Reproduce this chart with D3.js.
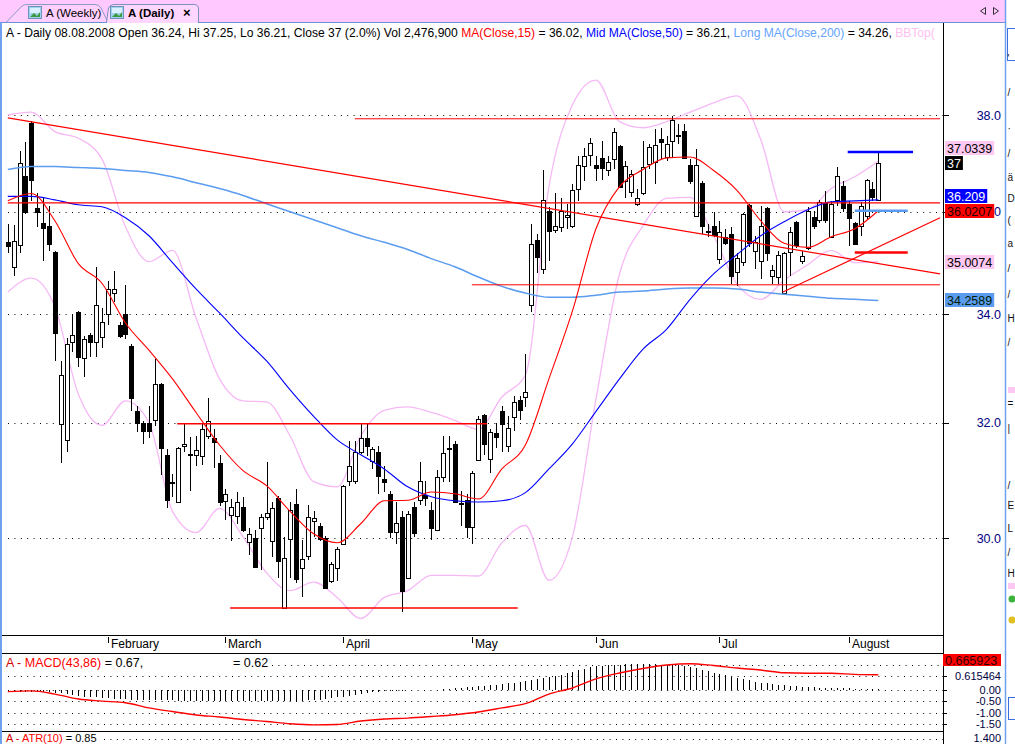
<!DOCTYPE html>
<html><head><meta charset="utf-8">
<script src="https://cdn.jsdelivr.net/npm/d3@7"></script>
<style>
html,body{margin:0;padding:0;background:#fff;overflow:hidden;}
svg{display:block;font-family:"Liberation Sans",Arial,sans-serif;}
</style></head><body>
<svg id="c" width="1015" height="744"></svg>
<script>
// ---------- DATA ----------
const openP  = [35.39,34.91,35.33,36.73,37.84,36.08,35.78,35.72,35.19,31.98,31.69,33.47,34.04,33.17,33.61,33.47,33.56,34.00,34.40,33.80,34.00,33.39,32.20,32.00,32.00,32.04,32.70,31.43,30.96,30.61,31.58,31.45,31.43,31.41,31.76,31.72,31.29,30.63,30.38,30.37,30.52,29.93,30.00,30.16,30.35,29.95,30.68,28.85,29.98,30.57,29.50,29.70,30.28,30.21,30.00,29.28,29.50,29.90,30.97,30.97,31.48,31.72,31.32,31.48,31.01,30.75,30.10,30.35,29.33,30.52,30.64,30.73,30.47,30.14,31.04,31.53,31.62,30.59,30.64,30.19,31.34,32.13,31.36,31.81,32.20,31.58,32.09,32.40,32.46,34.18,35.43,34.87,36.02,35.64,35.70,35.90,35.72,36.47,36.94,37.16,36.96,37.10,36.86,37.08,37.35,36.63,36.39,36.16,36.37,36.98,37.02,37.49,37.12,37.45,37.57,37.67,36.96,35.92,36.59,35.62,35.72,35.07,35.49,35.56,34.81,35.01,36.14,35.21,35.03,36.08,34.73,34.71,34.40,35.19,35.80,35.03,35.27,35.90,35.84,36.18,35.50,36.24,36.53,36.16,35.78,35.72,35.92,36.47,36.24];
const highP  = [35.76,35.74,37.24,37.43,37.88,36.37,36.27,36.12,35.22,33.12,33.54,34.00,34.06,33.58,33.65,34.91,34.12,34.63,34.83,33.85,34.55,33.43,32.29,32.02,32.29,33.16,32.72,31.53,31.10,31.57,31.97,31.74,31.76,31.97,32.44,31.88,31.43,30.83,30.66,30.78,30.70,30.17,30.14,30.40,31.30,30.61,30.71,30.02,30.61,30.83,29.97,30.56,30.45,30.25,30.03,29.60,29.85,30.90,31.67,31.67,31.97,31.97,31.57,31.58,31.23,30.80,30.61,30.45,30.45,30.61,31.30,30.97,30.61,31.17,31.76,31.76,31.67,30.80,30.75,31.15,32.11,32.15,31.88,32.00,32.29,32.11,32.48,32.48,33.25,35.76,35.56,36.84,36.10,36.37,36.27,36.16,36.57,37.14,37.31,37.51,37.14,37.45,37.14,37.73,37.37,37.04,36.84,36.47,37.45,37.39,37.71,37.73,37.55,37.98,37.80,37.80,37.08,37.29,36.63,35.76,36.00,35.82,35.66,35.70,35.17,35.98,36.16,35.52,36.12,36.10,34.95,35.21,35.19,35.70,35.82,35.21,36.10,36.02,36.24,36.41,36.22,36.92,36.63,36.22,35.80,36.20,36.67,36.61,37.25];
const lowP   = [35.17,34.73,35.17,35.96,36.22,35.70,35.03,35.21,33.12,31.29,31.48,33.28,33.01,32.83,33.19,33.19,33.36,33.80,34.22,33.55,33.52,32.20,31.83,31.62,31.72,31.93,31.08,30.50,30.70,30.59,31.48,30.80,31.23,31.25,31.70,31.20,30.54,30.31,29.95,30.24,30.10,29.72,29.50,29.47,30.31,29.68,29.33,28.83,29.33,29.25,29.02,29.63,30.02,29.95,29.17,29.25,29.28,29.88,30.89,30.92,31.44,31.41,31.18,30.75,30.78,30.00,29.90,28.78,29.32,30.02,30.56,30.54,29.97,30.12,30.96,30.96,30.59,30.21,30.00,29.90,31.34,31.43,31.11,31.55,31.48,31.48,31.84,32.04,32.28,34.04,34.79,34.77,35.03,35.58,35.60,35.66,35.68,36.22,36.63,36.94,36.63,36.65,36.73,36.88,36.49,36.27,36.29,36.12,36.33,36.88,36.57,37.08,37.04,37.12,37.39,37.08,36.57,35.90,35.56,35.50,35.50,34.97,35.33,34.57,34.53,34.93,35.30,34.87,34.67,35.03,34.57,34.57,34.38,34.73,35.27,34.97,35.23,35.66,35.78,35.78,35.48,36.12,36.00,35.31,35.33,35.52,35.86,36.22,36.21];
const closeP = [35.31,35.41,37.00,36.00,36.65,36.00,35.68,35.35,33.65,32.86,33.43,33.61,33.19,33.52,33.47,34.18,33.85,34.48,34.48,33.58,33.63,32.44,32.00,31.84,31.84,32.70,31.55,30.64,30.94,31.55,31.62,31.43,31.51,31.88,32.02,31.65,30.61,30.75,30.52,30.61,30.14,30.07,29.52,30.35,30.43,30.50,29.62,29.67,30.47,29.32,29.65,30.35,30.33,29.98,29.18,29.57,29.82,30.89,31.23,31.48,31.72,31.58,31.53,31.06,30.96,30.10,30.26,29.12,30.40,30.09,30.97,30.68,30.16,31.04,31.46,31.55,30.61,30.57,30.19,31.11,32.07,31.62,31.83,31.74,31.97,31.91,32.37,32.22,32.55,35.35,35.11,36.24,35.62,35.72,36.02,35.94,36.45,36.96,37.14,37.41,36.90,36.90,37.02,37.65,36.51,36.94,36.76,36.27,36.92,37.33,37.37,37.43,37.39,37.90,37.55,37.10,36.63,36.96,35.72,35.60,35.54,35.60,35.37,34.73,35.09,35.96,35.37,35.39,35.72,35.17,34.85,35.15,35.17,35.60,35.33,35.13,36.02,35.72,36.20,35.84,36.16,36.73,36.08,35.88,35.35,36.12,36.65,36.29,37.00];

// indicator lines, sampled every 4th session
const lineIdx = [0,4,8,12,16,20,24,28,32,36,40,44,48,52,56,60,64,68,72,76,80,84,88,92,96,100,104,108,112,116,120,124,128,132,136,140,144,148];
const ma15  = [36.22,36.37,35.82,34.97,34.59,33.83,33.32,32.79,32.18,31.60,31.15,30.89,30.45,30.07,29.92,30.24,30.63,30.64,30.78,30.75,30.66,31.18,31.60,32.79,34.06,35.66,36.51,36.86,37.10,37.12,36.84,36.43,35.82,35.37,35.29,35.50,35.66,36.02];
const ma50  = [36.31,36.31,36.24,36.14,36.10,35.88,35.52,34.99,34.48,34.02,33.55,33.12,32.59,32.11,31.69,31.43,31.18,30.87,30.70,30.63,30.61,30.63,30.77,31.18,31.62,32.20,32.79,33.34,33.71,34.28,34.77,35.15,35.52,35.80,36.04,36.20,36.22,36.24];
const ma200 = [36.86,36.92,36.92,36.90,36.88,36.84,36.80,36.71,36.59,36.47,36.33,36.16,36.00,35.84,35.68,35.52,35.39,35.25,35.07,34.91,34.71,34.53,34.40,34.32,34.32,34.36,34.42,34.44,34.48,34.50,34.50,34.48,34.42,34.38,34.34,34.30,34.28,34.26];
const bbTop = [38.00,38.06,37.65,37.51,37.08,35.70,35.01,35.23,33.93,32.79,32.39,32.37,31.76,30.96,30.87,31.76,32.22,32.28,32.18,32.04,31.88,32.46,32.86,36.51,38.22,38.75,37.86,37.73,37.86,38.06,38.26,38.41,37.49,36.00,36.04,36.47,36.71,37.03];
const bbBot = [34.42,34.69,34.14,32.51,31.95,32.39,32.00,30.45,30.09,30.50,30.02,29.42,29.13,29.27,29.02,28.68,29.02,29.13,29.38,29.38,29.37,29.92,30.21,29.30,30.02,32.42,34.77,35.72,36.27,36.29,35.52,34.57,34.28,34.65,34.95,35.23,34.99,35.01];
const macd  = [-0.07,-0.04,-0.18,-0.40,-0.49,-0.56,-0.79,-0.95,-1.10,-1.19,-1.30,-1.39,-1.49,-1.54,-1.52,-1.37,-1.28,-1.24,-1.17,-1.09,-0.97,-0.79,-0.60,-0.18,0.09,0.49,0.75,0.95,1.10,1.16,1.08,0.97,0.88,0.76,0.74,0.74,0.69,0.67];
const macdHist = [-0.05,-0.06,-0.07,-0.08,-0.08,-0.09,-0.10,-0.11,-0.12,-0.15,-0.19,-0.22,-0.26,-0.29,-0.31,-0.33,-0.35,-0.37,-0.38,-0.40,-0.41,-0.42,-0.43,-0.44,-0.44,-0.45,-0.45,-0.46,-0.46,-0.47,-0.47,-0.47,-0.48,-0.48,-0.48,-0.48,-0.49,-0.49,-0.49,-0.49,-0.50,-0.50,-0.50,-0.50,-0.50,-0.50,-0.49,-0.49,-0.49,-0.48,-0.47,-0.46,-0.44,-0.42,-0.39,-0.36,-0.33,-0.29,-0.25,-0.21,-0.17,-0.14,-0.11,-0.08,-0.06,-0.05,-0.04,-0.03,-0.02,-0.02,-0.01,0.00,0.01,0.02,0.04,0.06,0.08,0.10,0.12,0.14,0.16,0.18,0.20,0.23,0.26,0.29,0.32,0.35,0.38,0.42,0.47,0.52,0.57,0.62,0.67,0.73,0.80,0.87,0.94,1.00,1.05,1.08,1.10,1.11,1.12,1.13,1.13,1.13,1.13,1.13,1.13,1.12,1.12,1.11,1.09,1.06,1.01,0.95,0.89,0.83,0.77,0.71,0.65,0.59,0.53,0.47,0.42,0.37,0.33,0.29,0.26,0.23,0.20,0.18,0.16,0.14,0.13,0.12,0.11,0.10,0.09,0.08,0.08,0.07,0.06,0.06,0.05,0.05,0.05];

// drawn study lines (session index / price)
const studyI0 = [0, 0, 131.8, 59.0, 78.9, 28.8, 37.8, 144.0, 142.8, 144.0];
const studyP0 = [37.94, 36.18, 34.42, 37.92, 34.56, 31.98, 28.85, 35.19, 37.22, 36.02];
const studyI1 = [158.5, 158.5, 158.5, 158.5, 158.5, 81.5, 86.7, 153.0, 153.9, 153.0];
const studyP1 = [34.77, 36.18, 35.88, 37.92, 34.56, 31.98, 28.85, 35.19, 37.22, 36.02];

const monthLabels = ["February","March","April","May","Jun","Jul","August"];
const monthStart  = [17,37,57,79,100,121,143];
const priceTicks  = [38,36,34,32,30];
const priceTickLabels = ["38.0","36.0","34.0","32.0","30.0"];
const macdGrid = [1.1, 0.615464, 0, -0.5, -1, -1.5];
const macdTickVals = [0.615464, 0, -0.5, -1, -1.5];
const macdTickLabels = ["0.615464","0.00","-0.50","-1.00","-1.50"];
const tagValues = [37, 36.0207, 35.0074, 34.2589, 36.209, 37.0339];
const tagLabels = ["37","36.0207","35.0074","34.2589","36.209","37.0339"];

// ---------- CHART ----------
const svg = d3.select("#c");
const AX = 943;
const x  = d3.scaleLinear().domain([0,148]).range([7.8,878.3]);
const y  = d3.scaleLog().domain([30,38]).range([538,115]);
const ym = d3.scaleLinear().domain([-1.5,0]).range([724,690]);
const px = i => Math.round(x(i)) + 0.5;
const cr = v => Math.round(v) + 0.5;

svg.append("rect").attr("width",1015).attr("height",744).attr("fill","#fff");

// tab bar
const tb = svg.append("g");
tb.append("rect").attr("width",1005).attr("height",22).attr("fill","#ffc8ff");
tb.append("path").attr("d","M6,22.5 L22,6 Q24,4.5 28,4.5 L95,4.5 Q99,4.5 101,8 L108,22.5")
  .attr("fill","#ffcfff").attr("stroke","#8a9cc4");
tb.append("path").attr("d","M106.5,22.5 L108.5,8 Q110,4.5 114,4.5 L194,4.5 Q198.5,4.5 198.5,9 L198.5,22.5")
  .attr("fill","#ffd6ff").attr("stroke","#7d91bf");
tb.append("line").attr("x1",0).attr("x2",1005).attr("y1",22.5).attr("y2",22.5).attr("stroke","#6d8fd6");
tb.append("line").attr("x1",107).attr("x2",198).attr("y1",22.5).attr("y2",22.5).attr("stroke","#ffd6ff");
[28,110].forEach(ix=>{
  tb.append("rect").attr("x",ix+0.5).attr("y",6.5).attr("width",13).attr("height",12).attr("fill","#9fd2ee").attr("stroke","#6f92b8");
  tb.append("rect").attr("x",ix+2).attr("y",8).attr("width",10).attr("height",5).attr("fill","#d8f0ff");
  tb.append("path").attr("d",`M${ix+2},17 L${ix+6},13 L${ix+9},16 L${ix+12},12 L${ix+12},17 Z`).attr("fill","#3c9a3c");
});
tb.append("text").attr("x",46).attr("y",17).attr("font-size",11.5).attr("fill","#000").text("A (Weekly)");
tb.append("text").attr("x",128).attr("y",17).attr("font-size",11.5).attr("font-weight","bold").attr("fill","#000").text("A (Daily)");
tb.append("text").attr("x",183).attr("y",17).attr("font-size",13).attr("font-weight","bold").attr("fill","#000").text("×");
tb.append("path").attr("d","M985.5,7.5 L980.5,11 L985.5,14.5 Z").attr("fill","none").attr("stroke","#333");
tb.append("path").attr("d","M993.5,7.5 L998.5,11 L993.5,14.5 Z").attr("fill","none").attr("stroke","#333");

// window borders
svg.append("line").attr("x1",1).attr("x2",1).attr("y1",22).attr("y2",744).attr("stroke","#6fa0f0").attr("stroke-width",2);
svg.append("line").attr("x1",1005.5).attr("x2",1005.5).attr("y1",0).attr("y2",744).attr("stroke","#6fa0f0").attr("stroke-width",1.5);

// header (font size fitted to the reference line width)
const hdr = svg.append("text").attr("x",6).attr("y",37).attr("font-size",12.5);
[["A - Daily 08.08.2008 Open 36.24, Hi 37.25, Lo 36.21, Close 37 (2.0%) Vol 2,476,900 ","#000"],
 ["MA(Close,15)","#ff0000"],[" = 36.02, ","#000"],["Mid MA(Close,50)","#0000ff"],[" = 36.21, ","#000"],
 ["Long MA(Close,200)","#66a3ff"],[" = 34.26, ","#000"],["BBTop(","#ffc0f0"]]
 .forEach(s=>hdr.append("tspan").attr("fill",s[1]).text(s[0]));
const hl = hdr.node().getComputedTextLength();
if (hl > 929) hdr.attr("font-size", (12.5*929/hl).toFixed(2));

// price grid
const grid = svg.append("g");
priceTicks.forEach(v=>{
  grid.append("line").attr("x1",8).attr("x2",AX).attr("y1",cr(y(v))).attr("y2",cr(y(v)))
    .attr("stroke","#000").attr("stroke-dasharray","1,5.4");
});

const lineGen = vals => d3.line().x((d,k)=>x(lineIdx[k])).y(d=>y(d)).curve(d3.curveMonotoneX)(vals);
const plot = svg.append("g");
plot.append("path").attr("d",lineGen(bbTop)).attr("fill","none").attr("stroke","#f6b9f6").attr("stroke-width",1.3);
plot.append("path").attr("d",lineGen(bbBot)).attr("fill","none").attr("stroke","#f6b9f6").attr("stroke-width",1.3);

// candles
const cg = plot.append("g");
const cd = closeP.map((c,i)=>({i,o:openP[i],h:highP[i],l:lowP[i],c}));
cg.selectAll("line.w").data(cd).join("line").attr("class","w")
  .attr("x1",d=>px(d.i)).attr("x2",d=>px(d.i)).attr("y1",d=>y(d.h)).attr("y2",d=>y(d.l))
  .attr("stroke","#000").attr("shape-rendering","crispEdges");
cg.selectAll("rect.b").data(cd).join("rect").attr("class","b")
  .attr("x",d=>px(d.i)-2).attr("width",4)
  .attr("y",d=>cr(y(Math.max(d.o,d.c))))
  .attr("height",d=>Math.max(0.01, Math.round(y(Math.min(d.o,d.c))) - Math.round(y(Math.max(d.o,d.c)))))
  .attr("fill",d=>d.c>=d.o?"#fff":"#000").attr("stroke","#000").attr("shape-rendering","crispEdges");

plot.append("path").attr("d",lineGen(ma200)).attr("fill","none").attr("stroke","#5b9cf0").attr("stroke-width",1.5);
plot.append("path").attr("d",lineGen(ma50)).attr("fill","none").attr("stroke","#0000ff").attr("stroke-width",1.1);
plot.append("path").attr("d",lineGen(ma15)).attr("fill","none").attr("stroke","#ff0000").attr("stroke-width",1.1);

// study lines
const studyStyle = [["#ff0000",1.2],["#ff0000",1.2],["#ff0000",1.2],["#ff0000",1],["#ff0000",1],["#ff0000",1.5],["#ff0000",1.5],["#ff0000",2.5],["#0000ff",2.5],["#5b9cf0",2.5]];
const sg = svg.append("g");
studyI0.forEach((v,k)=>{
  sg.append("line").attr("x1",x(v)).attr("x2",x(studyI1[k]))
    .attr("y1",y(studyP0[k])).attr("y2",y(studyP1[k]))
    .attr("stroke",studyStyle[k][0]).attr("stroke-width",studyStyle[k][1]);
});

// right axis
const ax = svg.append("g");
ax.append("line").attr("x1",AX+0.5).attr("x2",AX+0.5).attr("y1",23).attr("y2",744).attr("stroke","#000");
priceTicks.forEach((v,k)=>{
  ax.append("line").attr("x1",AX).attr("x2",AX+6).attr("y1",cr(y(v))).attr("y2",cr(y(v))).attr("stroke","#000");
  ax.append("text").attr("x",1001).attr("y",y(v)+4.5).attr("text-anchor","end").attr("font-size",12.5)
    .attr("fill","#000080").text(priceTickLabels[k]);
});

// price tags
const tagStyle = [["#000","#fff"],["#ff0000","#200000"],["#ffc8f2","#000"],["#5b9cf0","#002000"],["#0000ff","#fff"],["#ffc8f2","#000"]];
const placed = [];
tagValues.forEach((v,k)=>{
  let cy = y(v);
  let moved = true;
  while (moved) {
    moved = false;
    for (const p of placed) { if (Math.abs(cy - p) < 15) { cy = p - 15; moved = true; } }
  }
  placed.push(cy);
  const g = ax.append("g");
  const r = g.append("rect").attr("x",945).attr("y",Math.round(cy-7)).attr("height",14).attr("fill",tagStyle[k][0]);
  const t = g.append("text").attr("x",947).attr("y",Math.round(cy-7)+11.5).attr("font-size",12.5)
    .attr("fill",tagStyle[k][1]).text(tagLabels[k]);
  r.attr("width", t.node().getComputedTextLength()+4);
});

// pane separators
[635.5,653.5,731.5].forEach(v=>svg.append("line").attr("x1",2).attr("x2",AX).attr("y1",v).attr("y2",v).attr("stroke","#000"));

// month axis
monthLabels.forEach((m,k)=>{
  const mx = px(monthStart[k]);
  svg.append("line").attr("x1",mx).attr("x2",mx).attr("y1",637).attr("y2",643).attr("stroke","#000");
  svg.append("text").attr("x",mx+2.5).attr("y",648).attr("font-size",12).attr("fill","#000").text(m);
});

// MACD pane
const mg = svg.append("g");
macdGrid.forEach((v,k)=>{
  mg.append("line").attr("x1",k===0?272:8).attr("x2",AX).attr("y1",cr(ym(v))).attr("y2",cr(ym(v)))
    .attr("stroke","#000").attr("stroke-dasharray","1,5.4");
});
mg.selectAll("line.h").data(macdHist).join("line").attr("class","h")
  .attr("x1",(d,i)=>px(i)).attr("x2",(d,i)=>px(i))
  .attr("y1",ym(0)).attr("y2",d=>ym(d)).attr("stroke","#000").attr("shape-rendering","crispEdges");
mg.append("path").attr("d",d3.line().x((d,k)=>x(lineIdx[k])).y(d=>ym(d)).curve(d3.curveMonotoneX)(macd))
  .attr("fill","none").attr("stroke","#ff0000").attr("stroke-width",1.4);
const ml = mg.append("text").attr("x",6).attr("y",667).attr("font-size",12.5);
ml.append("tspan").attr("fill","#d00000").text("A - ");
ml.append("tspan").attr("fill","#ff0000").text("MACD(43,86)");
ml.append("tspan").attr("fill","#000").text(" = 0.67,");
mg.append("text").attr("x",233).attr("y",667).attr("font-size",12.5).attr("fill","#000").text("= 0.62");
macdTickVals.forEach((v,k)=>{
  mg.append("line").attr("x1",AX).attr("x2",AX+4).attr("y1",cr(ym(v))).attr("y2",cr(ym(v))).attr("stroke","#000");
  mg.append("text").attr("x",1001).attr("y",ym(v)+4).attr("text-anchor","end").attr("font-size",11)
    .attr("fill","#000040").text(macdTickLabels[k]);
});
mg.append("rect").attr("x",943).attr("y",654).attr("width",58).attr("height",12).attr("fill","#ff0000");
mg.append("text").attr("x",945).attr("y",665).attr("font-size",12.5).attr("fill","#300000").text("0.665923");

// ATR pane header
const at = svg.append("text").attr("x",6).attr("y",741.5).attr("font-size",11);
at.append("tspan").attr("fill","#d00000").text("A - ");
at.append("tspan").attr("fill","#ff0000").text("ATR(10)");
at.append("tspan").attr("fill","#000").text(" = 0.85");
svg.append("line").attr("x1",104).attr("x2",AX).attr("y1",739.5).attr("y2",739.5).attr("stroke","#000").attr("stroke-dasharray","1,5.4");
svg.append("text").attr("x",1001).attr("y",741.5).attr("text-anchor","end").attr("font-size",11).attr("fill","#000040").text("1.400");

// neighbouring window strip (cropped)
const rs = svg.append("g");
rs.append("rect").attr("x",1007.5).attr("y",28.5).attr("width",20).attr("height",32).attr("fill","none").attr("stroke","#3a6fe0");
rs.append("rect").attr("x",1008.5).attr("y",697.5).attr("width",20).attr("height",22).attr("fill","none").attr("stroke","#3a6fe0");
[["'",62],["/",96],["·",132],["/",157],["ä",181],["D",202],["(",224],["a",247],["/",272],["/",298],["H",322],["/",346],["=",407],["|",432],["/",489],["E",509],["L",532],["/",556],["H",577]]
  .forEach(g=>rs.append("text").attr("x",1007.5).attr("y",g[1]).attr("font-size",10).attr("fill","#111").text(g[0]));
rs.append("rect").attr("x",1008).attr("y",387).attr("width",8).attr("height",6).attr("fill","#ffc8f2");
rs.append("rect").attr("x",1008).attr("y",583).attr("width",8).attr("height",6).attr("fill","#ffc8f2");
rs.append("circle").attr("cx",1012).attr("cy",599).attr("r",3.5).attr("fill","#3cb43c");
rs.append("circle").attr("cx",1012).attr("cy",620).attr("r",3.5).attr("fill","#e0c020");
</script>
</body></html>
